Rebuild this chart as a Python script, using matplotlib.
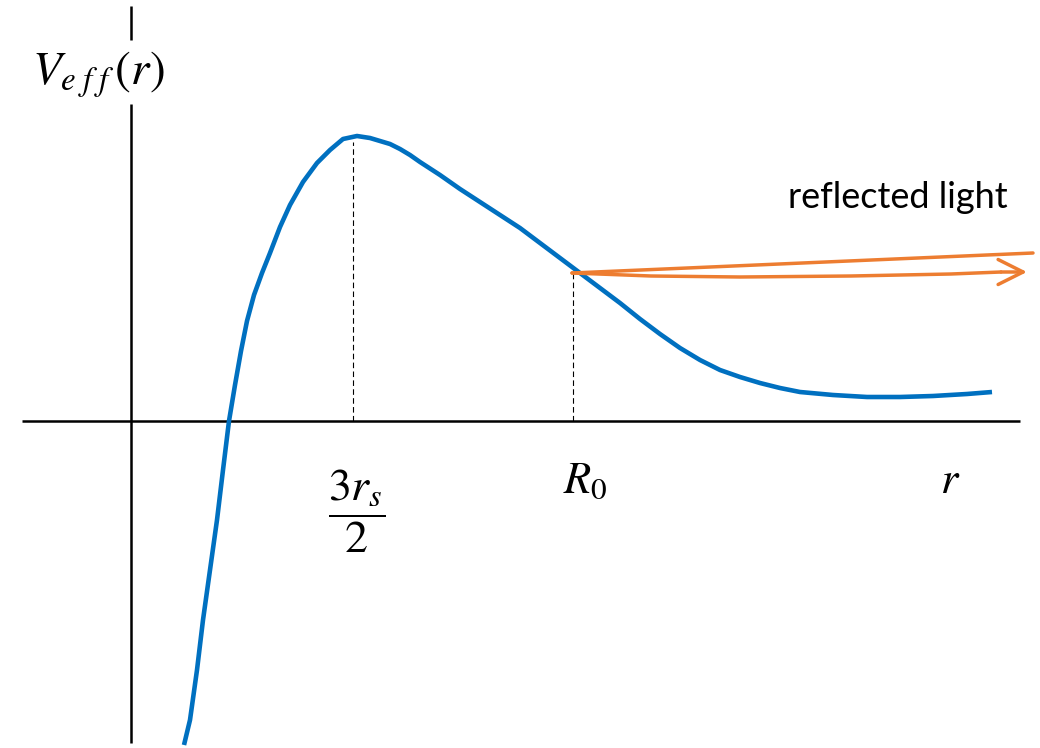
import matplotlib
matplotlib.use("Agg")
import matplotlib.pyplot as plt

plt.rcParams['mathtext.fontset'] = 'stix'

# effective potential V_eff(r), arbitrary units (r measured from the vertical axis)
r_vals = [53, 59, 66, 72, 79, 86, 92, 98, 104, 110, 116, 123, 131, 139, 149, 159,
          172, 186, 199, 212, 226, 239, 249, 259, 269, 279, 289, 309, 329, 349, 369, 389,
          409, 429, 449, 469, 489, 509, 529, 549, 569, 589, 609, 629, 649, 669,
          702, 736, 769, 802, 836, 861]
v_vals = [-324, -299, -249, -199, -149, -99, -49, 0, 36, 70, 100, 126, 148, 168, 194, 216,
          239, 258, 271, 282, 285, 283, 280, 277, 272, 266, 259, 246, 232, 219, 206, 193,
          178, 163, 148, 133, 118, 102, 87, 73, 61, 51, 44, 38, 33, 29,
          26, 24, 24, 25, 27, 29]

r_peak = 222      # 3 r_s / 2
r_zero = 442      # R_0
v_at_r_zero = 148

# reflected light rays leaving R_0
ray_out_r = [441, 902]
ray_out_v = [148, 168]
ray_back_r = [441, 520, 609, 720, 820, 870]
ray_back_v = [148, 145, 144, 145, 147, 149]
ray_tip = (896, 149)

blue = '#0070C0'
orange = '#ED7D31'

fig = plt.figure(figsize=(10.4, 7.48), dpi=100)
ax = fig.add_axes([0, 0, 1, 1])
ax.set_xlim(-131, 909)
ax.set_ylim(-327, 421)
ax.axis('off')

# axes
ax.plot([-109, 889], [0, 0], color='black', lw=1.8, solid_capstyle='butt')
ax.plot([0, 0], [-322, 317], color='black', lw=1.8, solid_capstyle='butt')
ax.plot([0, 0], [381, 415], color='black', lw=1.8, solid_capstyle='butt')

# guide lines
ax.plot([r_peak, r_peak], [0, 279], color='black', lw=0.8, ls=(0, (5, 3)))
ax.plot([r_zero, r_zero], [0, v_at_r_zero], color='black', lw=0.8, ls=(0, (5, 3)))

# potential curve
ax.plot(r_vals, v_vals, color=blue, lw=3.3, solid_capstyle='butt', solid_joinstyle='round')

# rays
ax.plot(ray_out_r, ray_out_v, color=orange, lw=2.5, solid_capstyle='round')
ax.plot(ray_back_r, ray_back_v, color=orange, lw=2.5, solid_capstyle='round')
ax.annotate('', xy=ray_tip, xytext=(ray_back_r[-1], ray_back_v[-1]),
            arrowprops=dict(arrowstyle='->,head_length=1.8,head_width=0.9',
                            color=orange, lw=2.5, shrinkA=0, shrinkB=0))

# labels
ax.text(-99, 336, r'$V_{e\;f\;f}\,(r)$', fontsize=34, ha='left', va='baseline')
ax.text(r_peak + 4, -90, r'$\dfrac{3r_s}{2}$', fontsize=33, ha='center', va='center')
ax.text(r_zero - 10, -72, r'$R_0$', fontsize=32, ha='left', va='baseline')
ax.text(809, -72, r'$r$', fontsize=32, ha='left', va='baseline')
ax.text(877, 213, 'reflected light', fontsize=26, family='Lato', ha='right', va='baseline')

fig.savefig('out.png', dpi=100)
